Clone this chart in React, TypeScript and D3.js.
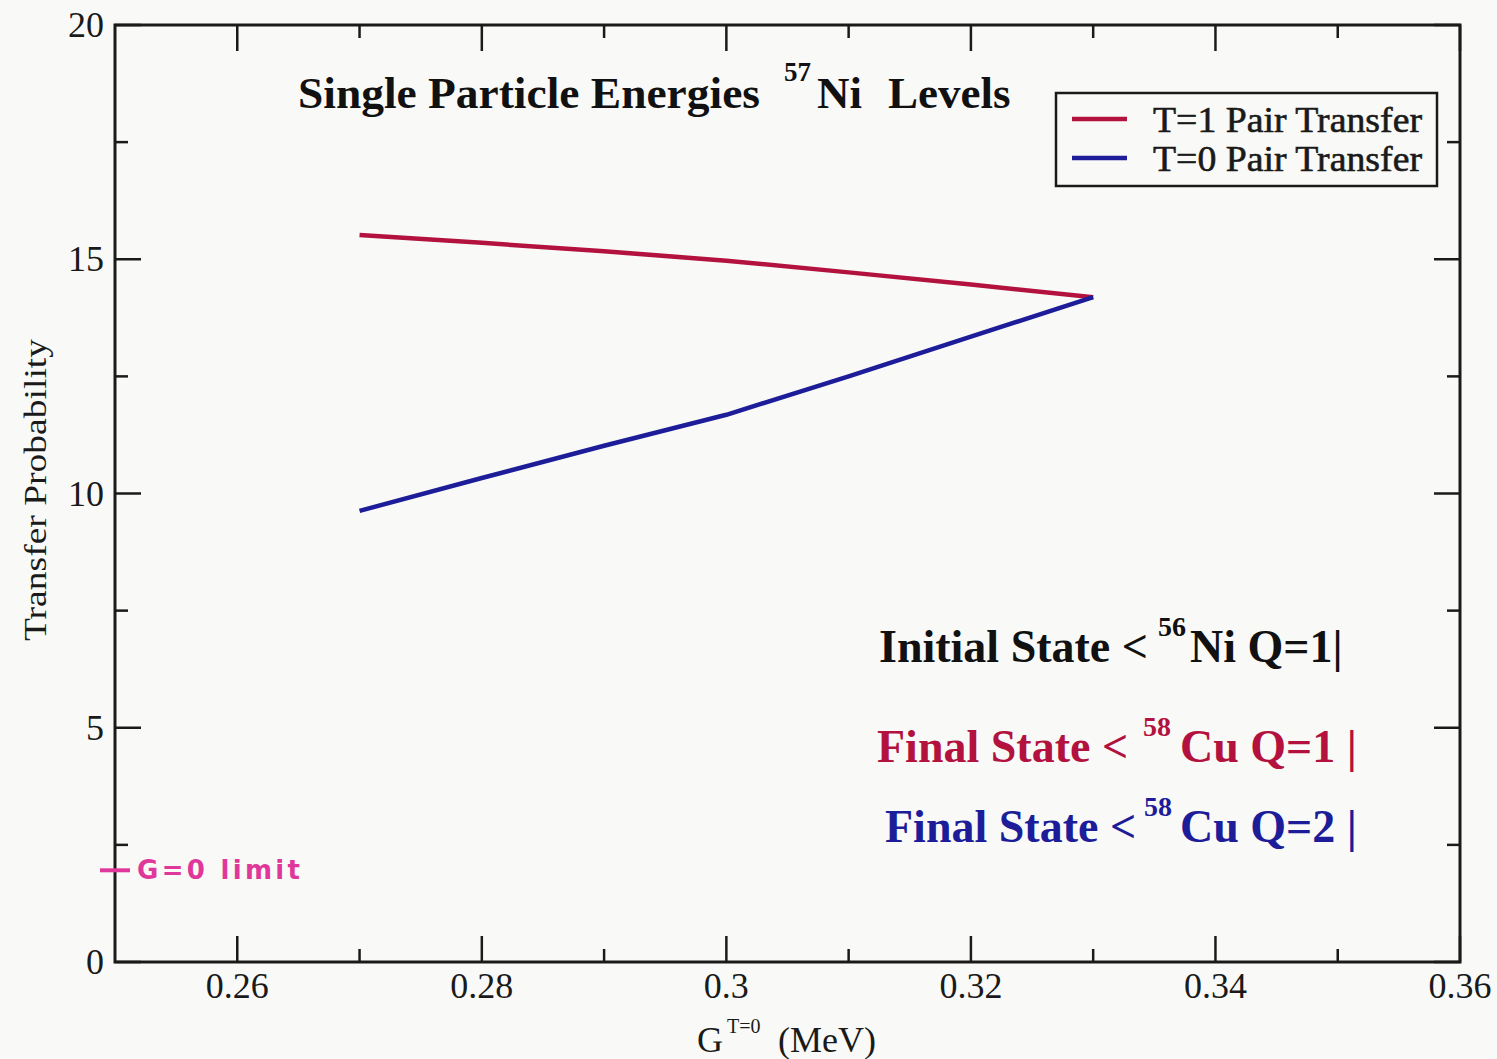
import React from "react"
import * as d3 from "d3"

// data
const gValues = [0.27, 0.28, 0.29, 0.3, 0.31, 0.32, 0.33]
const pairT1 = [15.52, 15.35, 15.17, 14.97, 14.72, 14.46, 14.19]
const pairT0 = [9.63, 10.33, 11.02, 11.68, 12.5, 13.35, 14.19]

const xMajor = [0.26, 0.28, 0.3, 0.32, 0.34, 0.36]
const xMajorLabels = ["0.26", "0.28", "0.3", "0.32", "0.34", "0.36"]
const xMinor = [0.27, 0.29, 0.31, 0.33, 0.35]
const yMajor = [0, 5, 10, 15, 20]
const yMinor = [2.5, 7.5, 12.5, 17.5]

const legendNames = ["T=1 Pair Transfer", "T=0 Pair Transfer"]
const seriesColors = ["#b3123f", "#1d1d9a"]
const limitValue = 2

const W = 1497
const H = 1059
const left = 115
const right = 1460
const top = 25
const bottom = 962
const font = "'Liberation Serif', 'Times New Roman', serif"

const App = () => {
	const x = d3.scaleLinear().domain([0.25, 0.36]).range([left, right])
	const y = d3.scaleLinear().domain([0, 20]).range([bottom, top])

	const line = d3
		.line<number>()
		.x((_, i) => x(gValues[i]))
		.y(d => y(d))

	const series = [pairT1, pairT0]
	const major = 26
	const minor = 13

	return (
		<svg
			width={W}
			height={H}
			style={{ position: "absolute", left: 0, top: 0, background: "#f9faf8" }}
			fontFamily={font}
		>
			{/* data lines */}
			{series.map((s, i) => (
				<path
					key={i}
					d={line(s) || ""}
					fill="none"
					stroke={seriesColors[i]}
					strokeWidth={4.5}
					strokeLinejoin="round"
				/>
			))}

			{/* frame */}
			<rect
				x={left}
				y={top}
				width={right - left}
				height={bottom - top}
				fill="none"
				stroke="#1a1a1a"
				strokeWidth={3}
			/>

			{/* x ticks, bottom and top */}
			{xMajor.map(v => (
				<g key={"xM" + v} stroke="#1a1a1a" strokeWidth={2.5}>
					<line x1={x(v)} x2={x(v)} y1={bottom} y2={bottom - major} />
					<line x1={x(v)} x2={x(v)} y1={top} y2={top + major} />
				</g>
			))}
			{xMinor.map(v => (
				<g key={"xm" + v} stroke="#1a1a1a" strokeWidth={2.5}>
					<line x1={x(v)} x2={x(v)} y1={bottom} y2={bottom - minor} />
					<line x1={x(v)} x2={x(v)} y1={top} y2={top + minor} />
				</g>
			))}
			{xMajor.map((v, i) => (
				<text
					key={"xl" + v}
					x={x(v)}
					y={998}
					textAnchor="middle"
					fontSize={36}
					fill="#1a1a1a"
				>
					{xMajorLabels[i]}
				</text>
			))}

			{/* y ticks, left and right */}
			{yMajor.map(v => (
				<g key={"yM" + v} stroke="#1a1a1a" strokeWidth={2.5}>
					<line x1={left} x2={left + major} y1={y(v)} y2={y(v)} />
					<line x1={right} x2={right - major} y1={y(v)} y2={y(v)} />
				</g>
			))}
			{yMinor.map(v => (
				<g key={"ym" + v} stroke="#1a1a1a" strokeWidth={2.5}>
					<line x1={left} x2={left + minor} y1={y(v)} y2={y(v)} />
					<line x1={right} x2={right - minor} y1={y(v)} y2={y(v)} />
				</g>
			))}
			{yMajor.map(v => (
				<text
					key={"yl" + v}
					x={104}
					y={y(v) + 12}
					textAnchor="end"
					fontSize={36}
					fill="#1a1a1a"
				>
					{v}
				</text>
			))}

			{/* axis titles */}
			<text
				transform={`translate(46, ${490}) rotate(-90)`}
				textAnchor="middle"
				fontSize={32}
				fill="#1a1a1a"
				textLength={302}
				lengthAdjust="spacingAndGlyphs"
			>
				Transfer Probability
			</text>
			<text x={697} y={1052} fontSize={36} fill="#1a1a1a">
				G
			</text>
			<text x={727} y={1033} fontSize={20} fill="#1a1a1a">
				T=0
			</text>
			<text x={778} y={1052} fontSize={36} fill="#1a1a1a">
				(MeV)
			</text>

			{/* title */}
			<text x={298} y={108} fontSize={45} fontWeight="bold" fill="#111">
				<tspan textLength={462} lengthAdjust="spacingAndGlyphs">
					Single Particle Energies
				</tspan>
				<tspan x={784} y={81} fontSize={27}>
					57
				</tspan>
				<tspan x={817} y={108}>
					Ni
				</tspan>
				<tspan x={888} y={108}>
					Levels
				</tspan>
			</text>

			{/* legend */}
			<rect
				x={1056}
				y={93}
				width={381}
				height={93}
				fill="#f9faf8"
				stroke="#1a1a1a"
				strokeWidth={2.5}
			/>
			{legendNames.map((n, i) => (
				<g key={n}>
					<line
						x1={1072}
						x2={1127}
						y1={119 + i * 39}
						y2={119 + i * 39}
						stroke={seriesColors[i]}
						strokeWidth={4.5}
					/>
					<text
						x={1153}
						y={132 + i * 39}
						fontSize={36}
						fill="#1a1a1a"
						stroke="#1a1a1a"
						strokeWidth={0.6}
						textLength={269}
						lengthAdjust="spacingAndGlyphs"
					>
						{n}
					</text>
				</g>
			))}

			{/* state annotations */}
			<text fontSize={46} fontWeight="bold" fill="#111">
				<tspan x={879} y={662}>Initial State &lt;</tspan>
				<tspan x={1158} y={636} fontSize={28}>56</tspan>
				<tspan x={1190} y={662}>Ni Q=1|</tspan>
			</text>
			<text fontSize={46} fontWeight="bold" fill={seriesColors[0]}>
				<tspan x={877} y={762}>Final State &lt;</tspan>
				<tspan x={1143} y={736} fontSize={28}>58</tspan>
				<tspan x={1180} y={762}>Cu Q=1 |</tspan>
			</text>
			<text fontSize={46} fontWeight="bold" fill={seriesColors[1]}>
				<tspan x={885} y={842}>Final State &lt;</tspan>
				<tspan x={1144} y={816} fontSize={28}>58</tspan>
				<tspan x={1180} y={842}>Cu Q=2 |</tspan>
			</text>

			{/* hand-written mark at the G=0 limit */}
			<line
				x1={100}
				x2={130}
				y1={y(limitValue) + 2}
				y2={y(limitValue) + 2}
				stroke="#e0389a"
				strokeWidth={4}
			/>
			<text
				x={137}
				y={y(limitValue) + 11}
				fontSize={26}
				fontWeight="bold"
				fill="#e0389a"
				fontFamily="'DejaVu Sans', sans-serif"
				textLength={163}
				lengthAdjust="spacing"
			>
				G=0 limit
			</text>
		</svg>
	)
}

export default App
